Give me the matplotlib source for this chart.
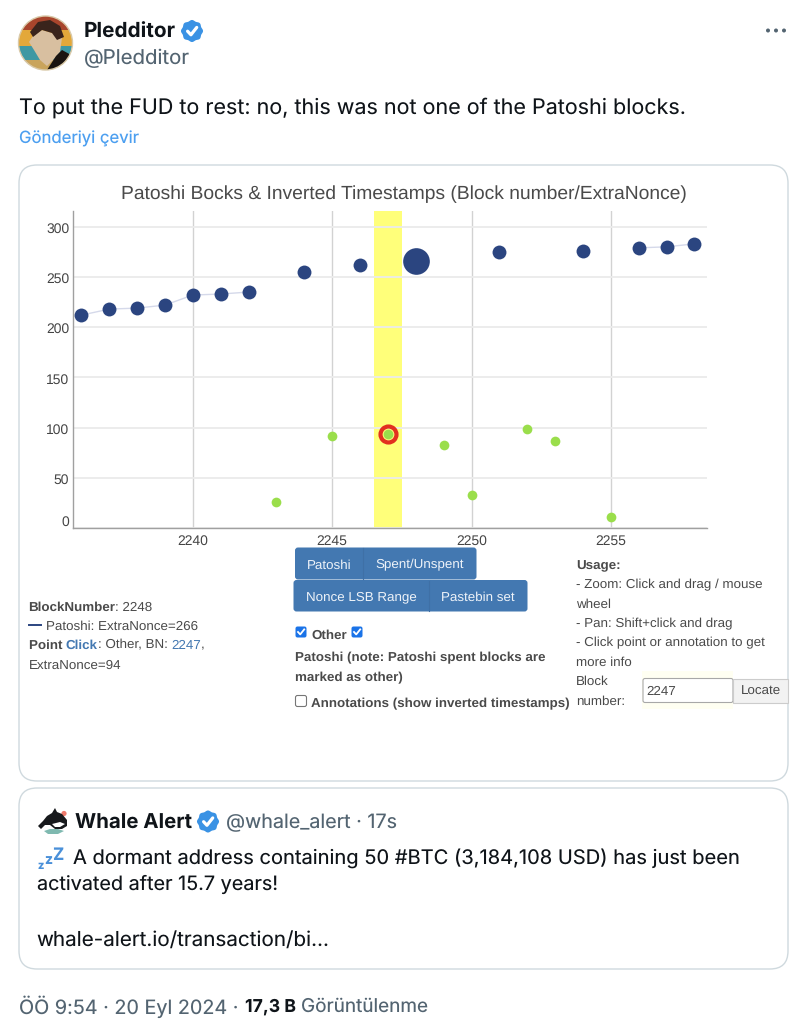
# -*- coding: utf-8 -*-
import numpy as np
import matplotlib
matplotlib.use('Agg')
import matplotlib.pyplot as plt
from matplotlib.patches import FancyBboxPatch, Circle, Polygon, Rectangle
from matplotlib.transforms import ScaledTranslation

plt.rcParams['text.hinting'] = 'no_hinting'

# chart data
patoshi_blocks = [2236, 2237, 2238, 2239, 2240, 2241, 2242, 2243, 2244, 2245, 2246,
                  2247, 2248, 2249, 2250, 2251, 2252, 2253, 2254, 2255, 2256, 2257, 2258]
patoshi_nonce = [212, 218, 219, 222, 232, 233, 235, np.nan, 255, np.nan, 262,
                 np.nan, 266, np.nan, np.nan, 275, np.nan, np.nan, 276, np.nan, 279, 280, 283]
other_blocks = [2243, 2245, 2247, 2249, 2250, 2252, 2253, 2255]
other_nonce = [26, 92, 94, 83, 33, 99, 87, 11]
hover_block = 2248
hover_nonce = 266
click_block = 2247
click_nonce = 94
x_ticks = [2240, 2245, 2250, 2255]
y_ticks = [0, 50, 100, 150, 200, 250, 300]

W, H = 805, 1024
UI = ['Inter', 'DejaVu Sans']
WEB = ['Liberation Sans', 'DejaVu Sans']
DARK = '#0f1419'
GRAY = '#536471'
WEBTXT = '#4a4a4a'
BLUE = '#4378b1'
WEBSIZE = 13.35

fig = plt.figure(figsize=(W / 100, H / 100), dpi=100, facecolor='white')
page = fig.add_axes([0, 0, 1, 1])
page.set_xlim(0, W)
page.set_ylim(H, 0)
page.axis('off')
renderer = fig.canvas.get_renderer()


def txt(x, y, s, width=None, size=13, color=DARK, bold=False, family=UI, ha='left'):
    # size in pixels, width = fit the string to that many pixels
    t = page.text(x, y, s, fontsize=size * 0.72, color=color, family=family,
                  fontweight='bold' if bold else 'normal', ha=ha, va='center_baseline', zorder=5)
    if width is not None:
        w = t.get_window_extent(renderer).width
        t.set_fontsize(t.get_fontsize() * width / w)
    return t


def runs(x, y, parts, size=WEBSIZE):
    for s, bold, color in parts:
        t = txt(x, y, s, size=size, color=color, bold=bold, family=WEB)
        x += t.get_window_extent(renderer).width


def card(x0, y0, x1, y1, r=18, fc='white', ec='#cfd9de', lw=1.0, z=1):
    page.add_patch(FancyBboxPatch((x0 + r, y0 + r), x1 - x0 - 2 * r, y1 - y0 - 2 * r,
                                  boxstyle='round,pad=%f,rounding_size=%f' % (r, r),
                                  fc=fc, ec=ec, lw=lw, zorder=z))


def badge(cx, cy, R):
    th = np.linspace(0, 2 * np.pi, 200)
    rr = R * (1 + 0.05 * np.cos(8 * th))
    page.add_patch(Polygon(np.c_[cx + rr * np.cos(th), cy + rr * np.sin(th)], fc='#3a92e4', ec='none', zorder=5))
    page.plot([cx - .42 * R, cx - .1 * R, cx + .45 * R], [cy + .02 * R, cy + .36 * R, cy - .34 * R],
              color='white', lw=R * 0.22, solid_capstyle='round', zorder=6)


def button(x0, y0, x1, y1):
    page.add_patch(FancyBboxPatch((x0 + 1, y0 + 1), x1 - x0 - 2, y1 - y0 - 2, boxstyle='round,pad=1,rounding_size=3',
                                  fc=BLUE, ec='none', zorder=3))


def checkbox(cx, cy, checked=True):
    if checked:
        page.add_patch(FancyBboxPatch((cx - 5, cy - 5), 10, 10, boxstyle='round,pad=.5,rounding_size=2',
                                      fc='#1a73e8', ec='none', zorder=5))
        page.plot([cx - 3, cx - .8, cx + 3.2], [cy, cy + 2.4, cy - 2.6], color='white', lw=1.3, zorder=6)
    else:
        page.add_patch(FancyBboxPatch((cx - 5, cy - 5), 10, 10, boxstyle='round,pad=.5,rounding_size=2',
                                      fc='white', ec='#767676', lw=0.8, zorder=5))


# avatar
clip = Circle((45.5, 43), 27, transform=page.transData)
for xy, col in [([(18, 16), (73, 16), (73, 31), (18, 31)], '#a8452c'),
                ([(18, 30), (73, 30), (73, 47), (18, 47)], '#e3a83a'),
                ([(18, 46), (73, 46), (73, 62), (18, 62)], '#3f98a3'),
                ([(18, 60), (73, 60), (73, 70), (18, 70)], '#c9a45c'),
                ([(33, 36), (42, 30), (52, 33), (62, 38), (60, 52), (55, 58), (47, 66), (40, 60), (34, 50), (29, 42)], '#d8bfa0'),
                ([(30, 32), (38, 22), (50, 20), (60, 26), (64, 37), (57, 40), (52, 33), (42, 30), (33, 37)], '#3a241c'),
                ([(47, 70), (56, 56), (62, 50), (73, 56), (73, 70)], '#1a1410')]:
    p = Polygon(xy, fc=col, ec='none', zorder=3)
    page.add_patch(p)
    p.set_clip_path(clip)
page.add_patch(Circle((45.5, 43), 27, fc='none', ec='#d9c9a8', lw=1, zorder=4))

# tweet head
txt(84, 30, 'Pledditor', width=92, size=19, bold=True)
badge(192, 31, 10.5)
txt(84, 56.5, '@Pledditor', width=106, size=19, color=GRAY)
for dx in (768, 776, 784):
    page.add_patch(Circle((dx, 30.5), 2, fc='#536471', ec='none', zorder=4))
txt(19, 105, 'To put the FUD to rest: no, this was not one of the Patoshi blocks.', width=667, size=20)
txt(19, 137, 'Gönderiyi çevir', width=120, size=16, color='#4c9ff0')

# chart card
card(19, 165, 788, 781)
txt(403.5, 192, 'Patoshi Bocks & Inverted Timestamps (Block number/ExtraNonce)', width=566, size=18.3,
    color='#4a4a4a', family=WEB, ha='center')

# the plot itself
ax = fig.add_axes([73.3 / W, 1 - 528 / H, (706.7 - 73.3) / W, (528 - 211) / H], zorder=2)
ax.patch.set_alpha(0)
ax.set_xlim(2235.71, 2258.44)
ax.set_ylim(0, 315.7)
ax.axvspan(click_block - .5, click_block + .5, color='#ffff7a', lw=0, zorder=0)
ax.set_xticks(x_ticks)
ax.set_yticks(y_ticks)
ax.xaxis.grid(True, color='#d2d2d2', lw=1, zorder=1)
ax.yaxis.grid(True, color='#ebebeb', lw=1.3, zorder=1)
ax.set_axisbelow(True)
ax.tick_params(length=0, labelsize=10, labelcolor='#444444', pad=4.5)
ax.tick_params(axis='y', pad=3)
for lab in ax.get_xticklabels() + ax.get_yticklabels():
    lab.set_family(WEB)
# dygraphs style labels sit a little under their gridline, the 0 one is pushed up
for lab in ax.get_yticklabels():
    lab.set_transform(lab.get_transform() + ScaledTranslation(0, -1 / 100, fig.dpi_scale_trans))
ax.get_yticklabels()[0].set_va('bottom')
for side in ('top', 'right'):
    ax.spines[side].set_visible(False)
for side in ('left', 'bottom'):
    ax.spines[side].set_color('#a0a0a0')
    ax.spines[side].set_linewidth(1)
ax.plot(patoshi_blocks, patoshi_nonce, '-', color='#d5d9ea', lw=1, zorder=2)
ax.plot(patoshi_blocks, patoshi_nonce, 'o', color='#2b4580', ms=10, mew=0, zorder=3)
ax.plot([hover_block], [hover_nonce], 'o', color='#2b4580', ms=19.2, mew=0, zorder=3)
ax.plot(other_blocks, other_nonce, 'o', color='#9ade4b', ms=7, mew=0, zorder=3)
ax.plot([click_block], [click_nonce], 'o', mfc='none', mec='#e2301f', ms=11.5, mew=3, zorder=4)

# left legend
LINK = '#4378b1'
runs(28.5, 606, [('BlockNumber', True, WEBTXT), (': 2248', False, WEBTXT)])
page.plot([28.5, 41], [625, 625], color='#2b4580', lw=1.4, zorder=5)
runs(46, 625, [('Patoshi: ExtraNonce=266', False, WEBTXT)])
runs(28.5, 644, [('Point ', True, WEBTXT), ('Click', True, LINK), (': Other, BN: ', False, WEBTXT),
                 ('2247', False, LINK), (',', False, WEBTXT)])
runs(28.5, 664, [('ExtraNonce=94', False, WEBTXT)])

# buttons
button(295, 547.5, 476.5, 579.5)
button(293.5, 580, 527.5, 611.5)
page.plot([363, 363], [548, 579], color='#3f70a6', lw=0.8, zorder=4)
page.plot([429, 429], [581, 611], color='#3f70a6', lw=0.8, zorder=4)
for cx, cy, s in [(329.5, 564, 'Patoshi'), (420, 564, 'Spent/Unspent'),
                  (361, 596, 'Nonce LSB Range'), (478, 596, 'Pastebin set')]:
    txt(cx, cy, s, size=WEBSIZE, color='#eef3f9', family=WEB, ha='center')

# checkboxes
checkbox(301, 632)
runs(311, 634, [('Other', True, WEBTXT)])
checkbox(357, 632)
runs(295, 657, [('Patoshi (note: Patoshi spent blocks are', True, WEBTXT)])
runs(295, 677, [('marked as other)', True, WEBTXT)])
checkbox(301, 701, False)
runs(311, 703, [('Annotations (show inverted timestamps)', True, WEBTXT)])

# usage column
runs(576, 565, [('Usage:', True, WEBTXT)])
for yy, s in [(584, '- Zoom: Click and drag / mouse'), (603, 'wheel'), (623, '- Pan: Shift+click and drag'),
              (642, '- Click point or annotation to get'), (661, 'more info'), (680, 'Block'), (700, 'number:')]:
    runs(576, yy, [(s, False, WEBTXT)])
page.add_patch(Rectangle((642, 671), 91, 38, fc='#fffff2', ec='none', zorder=2))
page.add_patch(FancyBboxPatch((643, 678.5), 90, 24, boxstyle='round,pad=0,rounding_size=2',
                              fc='white', ec='#a8a8a8', lw=0.8, zorder=3))
txt(646.5, 690.5, '2247', size=WEBSIZE, color=WEBTXT, family=WEB)
page.add_patch(Rectangle((733, 678.5), 54.5, 24, fc='#f2f2f2', ec='#cccccc', lw=0.8, zorder=3))
txt(760.5, 690.5, 'Locate', size=WEBSIZE, color=WEBTXT, family=WEB, ha='center')

# quoted tweet
card(19, 788, 788, 969)
page.add_patch(Polygon([(38, 826), (43, 821), (47, 816), (52, 813), (55, 808), (57, 812), (62, 814), (67, 820), (67, 826),
                        (62, 829), (55, 829), (50, 825), (45, 825), (41, 829)], fc='#17191c', ec='none', zorder=4))
page.add_patch(Polygon([(52, 824), (60, 822), (65, 824), (60, 827), (55, 827)], fc='white', ec='none', zorder=4))
page.add_patch(Polygon([(44, 831), (50, 829), (58, 829), (64, 831), (58, 834), (48, 834)], fc='#7fb9b0', ec='none', zorder=4))
page.add_patch(Circle((64, 813.5), 2.6, fc='#ee7a6c', ec='none', zorder=3))
txt(75, 821, 'Whale Alert', width=117, size=19, bold=True)
badge(208, 821.5, 10.5)
txt(226, 821, '@whale_alert · 17s', width=171, size=19, color=GRAY)
for zx, zy, zs, zc in [(41, 865, 11, 'z'), (48, 859, 14, 'z'), (58, 854, 17, 'Z')]:
    txt(zx, zy, zc, size=zs, color='#4a90d9', bold=True, ha='center')
txt(73, 855.5, 'A dormant address containing 50 #BTC (3,184,108 USD) has just been', width=667, size=20)
txt(37, 882.5, 'activated after 15.7 years!', width=241, size=20)
txt(36.5, 938, 'whale-alert.io/transaction/bi...', width=293, size=20)

# footer
txt(19, 1005, 'ÖÖ 9:54 · 20 Eyl 2024 · ', width=225, size=18, color=GRAY)
txt(245, 1005, '17,3 B', width=51, size=18, bold=True)
txt(301, 1005, 'Görüntülenme', width=127, size=18, color=GRAY)

fig.savefig('out.png', dpi=100, facecolor='white')
